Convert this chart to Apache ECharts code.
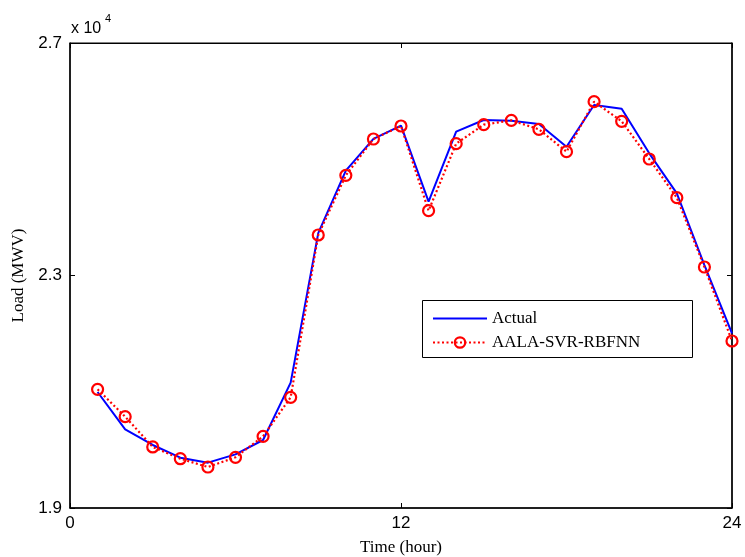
<!DOCTYPE html>
<html>
<head>
<meta charset="utf-8">
<script src="https://cdn.jsdelivr.net/npm/echarts@6/dist/echarts.min.js"></script>
<style>html,body{margin:0;padding:0;background:#fff;}#c{width:745px;height:557px;}</style>
</head>
<body>
<div id="c"></div>
<script>
var hours = [1,2,3,4,5,6,7,8,9,10,11,12,13,14,15,16,17,18,19,20,21,22,23,24];
var actual = [20996,20354,20084,19866,19780,19923,20170,21156,23730,24803,25350,25580,24270,25474,25675,25663,25606,25216,25933,25870,25102,24414,23180,22005];
var predicted = [21042,20571,20050,19848,19705,19872,20233,20904,23697,24723,25348,25572,24115,25268,25595,25670,25515,25130,25990,25653,25004,24339,23146,21873];
var xTicks = [0,12,24];
var yTicks = [19000,23000,27000];
var seriesNames = ['Actual','AALA-SVR-RBFNN'];

function pairs(xs, ys){ return xs.map(function(x,i){ return [x, ys[i]]; }); }

var chart = echarts.init(document.getElementById('c'), null, {renderer:'canvas'});
var sansFont = 'Liberation Sans, Arial, sans-serif';
var serifFont = 'Liberation Serif, Times New Roman, serif';
var tickCommon = {show:true, inside:true, length:5, lineStyle:{color:'#000', width:1}};
chart.setOption({
  animation:false,
  backgroundColor:'#fff',
  grid:{left:70, right:13, top:43, bottom:49, show:true, borderColor:'#000', borderWidth:1, containLabel:false, outerBoundsMode:'none'},
  xAxis:[{
    type:'value', min:xTicks[0], max:xTicks[xTicks.length-1], interval:12,
    name:'Time (hour)', nameLocation:'middle', nameGap:31,
    nameTextStyle:{fontFamily:serifFont, fontSize:17, color:'#000'},
    axisLine:{show:true, onZero:false, lineStyle:{color:'#000', width:1.5}},
    axisTick:tickCommon,
    axisLabel:{fontFamily:sansFont, fontSize:17, color:'#000', margin:7},
    splitLine:{show:false}
  },{
    type:'value', position:'top', min:xTicks[0], max:xTicks[xTicks.length-1], interval:12,
    axisLine:{show:true, onZero:false, lineStyle:{color:'#000', width:1}},
    axisTick:tickCommon, axisLabel:{show:false}, splitLine:{show:false}
  }],
  yAxis:[{
    type:'value', min:yTicks[0], max:yTicks[yTicks.length-1], interval:4000,
    name:'Load (MWV)', nameLocation:'middle', nameGap:43,
    nameTextStyle:{fontFamily:serifFont, fontSize:17, color:'#000'},
    axisLine:{show:true, onZero:false, lineStyle:{color:'#000', width:1.5}},
    axisTick:tickCommon,
    axisLabel:{fontFamily:sansFont, fontSize:17, color:'#000', margin:8,
      formatter:function(v){ return (v/10000).toFixed(1); }},
    splitLine:{show:false}
  },{
    type:'value', position:'right', min:yTicks[0], max:yTicks[yTicks.length-1], interval:4000,
    axisLine:{show:true, onZero:false, lineStyle:{color:'#000', width:1.5}},
    axisTick:tickCommon, axisLabel:{show:false}, splitLine:{show:false}
  }],
  legend:{
    left:427, top:305, orient:'vertical', itemGap:7, itemWidth:54, itemHeight:13,
    textStyle:{fontFamily:serifFont, fontSize:17, color:'#000'},
    data:[
      {name:seriesNames[0], itemStyle:{opacity:0}},
      {name:seriesNames[1], itemStyle:{color:'transparent', borderColor:'#ff0000', borderWidth:2.2}}
    ]
  },
  graphic:[
    {type:'rect', left:422, top:300, shape:{width:270, height:57}, style:{fill:'#fff', stroke:'#000', lineWidth:1}, z:-1, zlevel:0},
    {type:'text', left:71, top:21, style:{text:'x 10', font:'16px Liberation Sans, Arial, sans-serif', fill:'#000'}},
    {type:'text', left:105, top:13, style:{text:'4', font:'11px Liberation Sans, Arial, sans-serif', fill:'#000'}}
  ],
  series:[{
    name:seriesNames[0], type:'line', data:pairs(hours, actual),
    showSymbol:false, symbol:'none',
    lineStyle:{color:'#0000ff', width:2}, itemStyle:{color:'#0000ff'}, z:2
  },{
    name:seriesNames[1], type:'line', data:pairs(hours, predicted),
    symbol:'circle', symbolSize:11, showSymbol:true,
    lineStyle:{color:'#ff0000', width:2.2, type:[2,2.5]},
    itemStyle:{color:'transparent', borderColor:'#ff0000', borderWidth:2.2}, z:3
  }]
});
</script>
</body>
</html>
